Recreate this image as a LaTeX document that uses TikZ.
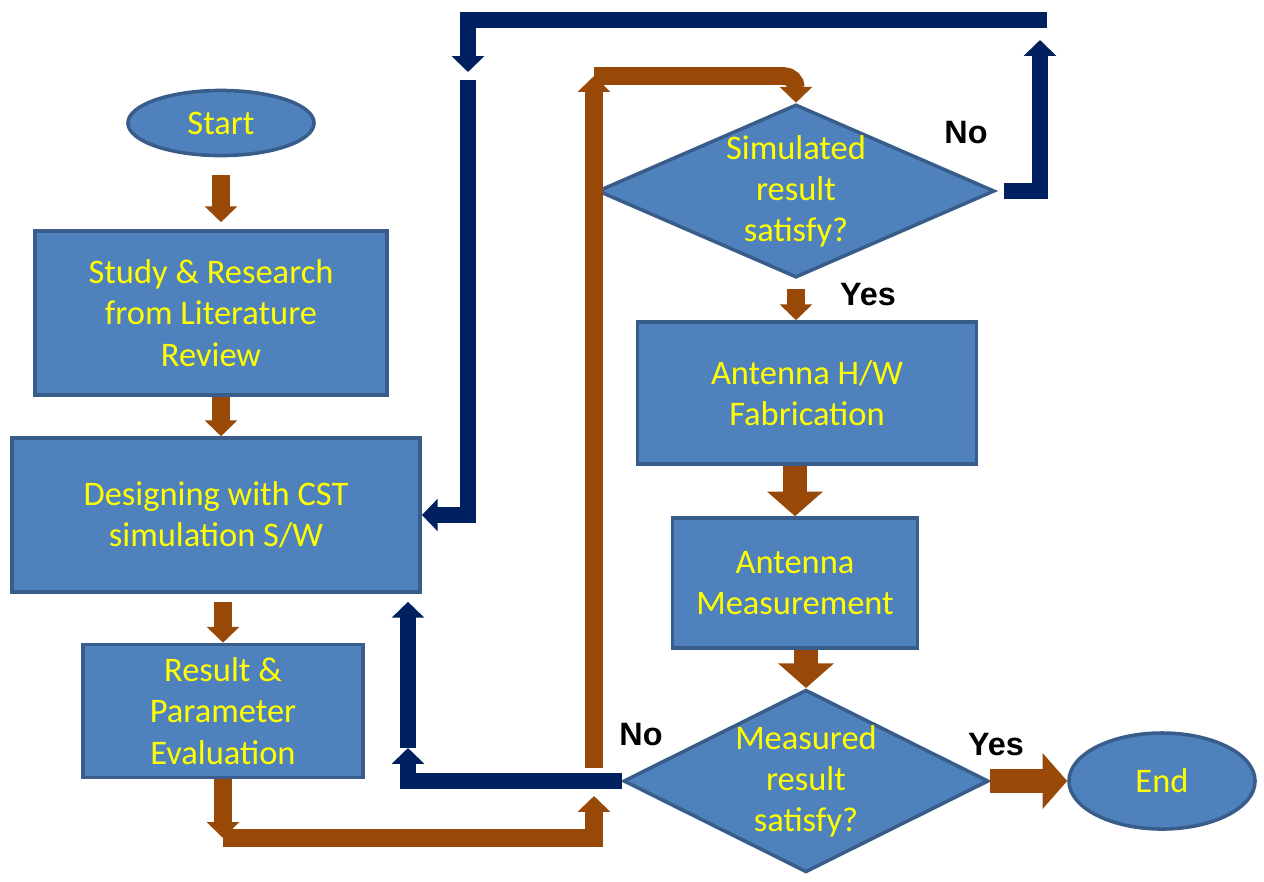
\documentclass[tikz,border=0pt]{standalone}
\usepackage{fontspec}
\setmainfont{Carlito}
\newfontfamily\answerfont{Liberation Sans}
\usetikzlibrary{shapes.geometric}
\usetikzlibrary{arrows.meta}

\definecolor{boxfill}{RGB}{79,129,189}
\definecolor{boxline}{RGB}{56,93,138}
\definecolor{flowbrown}{RGB}{152,72,7}
\definecolor{loopnavy}{RGB}{0,32,96}
\definecolor{boxtext}{RGB}{255,255,0}

\tikzset{
  block/.style={rectangle,draw=boxline,line width=1pt,fill=boxfill,text=boxtext,align=center,font=\fontsize{9.8}{11.7}\selectfont},
  terminal/.style={block,ellipse},
  decision/.style={block,diamond,inner sep=0pt},
  brownarrow/.style={draw=flowbrown,line width=5pt,-{Triangle[width=9pt,length=4.5pt]}},
  bigarrow/.style={draw=flowbrown,line width=7pt,-{Triangle[width=15.5pt,length=7pt]}},
  navyarrow/.style={draw=loopnavy,line width=4.5pt,-{Triangle[width=9pt,length=4.5pt]}},
  answer/.style={font=\answerfont\bfseries\fontsize{9.2}{11}\selectfont}
}

\begin{document}
\begin{tikzpicture}[x=0.01cm,y=-0.01cm]
\useasboundingbox (0,0) rectangle (1264,881);

\node[terminal,minimum width=1.86cm,minimum height=0.64cm] (start) at (221,123) {Start};
\node[block,minimum width=3.52cm,minimum height=1.64cm] (study) at (211,313) {Study \& Research\\from Literature\\Review};
\node[block,minimum width=4.08cm,minimum height=1.54cm] (design) at (216,515) {Designing with CST\\simulation S/W};
\node[block,minimum width=2.80cm,minimum height=1.33cm] (result) at (223,711) {Result \&\\Parameter\\Evaluation};
\node[decision,shape aspect=2.3,minimum width=3.87cm,minimum height=1.73cm] (simdec) at (796,191) {Simulated\\result\\satisfy?};
\node[block,minimum width=3.39cm,minimum height=1.42cm] (fab) at (807,393) {Antenna H/W\\Fabrication};
\node[block,minimum width=2.45cm,minimum height=1.30cm] (meas) at (795,583) {Antenna\\Measurement};
\node[decision,shape aspect=2,minimum width=3.57cm,minimum height=1.80cm] (measdec) at (806,781) {Measured\\result\\satisfy?};
\node[terminal,minimum width=1.86cm,minimum height=0.96cm] (finish) at (1162,781) {End};

\coordinate (lowcorner) at (223,838);
\coordinate (lowend) at (594,796);
\coordinate (loopfoot) at (594,768);
\coordinate (looptop) at (594,76);
\coordinate (navybend) at (408,748);
\coordinate (navyup) at (1040,40);
\coordinate (navyright) at (1047,20);
\coordinate (navydown) at (468,72);
\coordinate (navyfoot) at (468,80);

\draw[brownarrow,shorten <=0.18cm,shorten >=0.07cm] (start.south) -- (start.south |- study.north);
\draw[brownarrow] (start.south |- study.south) -- (start.south |- design.north);
\draw[brownarrow,shorten <=0.08cm] (result.north |- design.south) -- (result.north);
\draw[brownarrow] (result.south) -- (lowcorner);
\draw[brownarrow] (lowcorner) -| (lowend);
\draw[brownarrow] (loopfoot) -- (looptop);
\draw[brownarrow,rounded corners=0.12cm] (looptop) -| (simdec.north);

\draw[brownarrow,shorten <=0.1cm] (simdec.south) -- (simdec.south |- fab.north);
\draw[bigarrow] (meas.north |- fab.south) -- (meas.north);
\draw[bigarrow] (measdec.north |- meas.south) -- (measdec.north);
\draw[bigarrow] (measdec.east) -- (measdec.east -| finish.west);

\draw[navyarrow] (measdec.west) -| (navybend);
\draw[navyarrow,shorten >=0.08cm] (navybend) -- (navybend |- design.south);
\draw[navyarrow,shorten <=0.08cm] (simdec.east) -| (navyup);
\draw[navyarrow] (navyright) -| (navydown);
\draw[navyarrow] (navyfoot) |- (design.east);

\node[answer] (simno) at (966,133) {No};
\node[answer] (simyes) at (868,295) {Yes};
\node[answer] (measno) at (641,735) {No};
\node[answer] (measyes) at (996,745) {Yes};

\end{tikzpicture}
\end{document}
